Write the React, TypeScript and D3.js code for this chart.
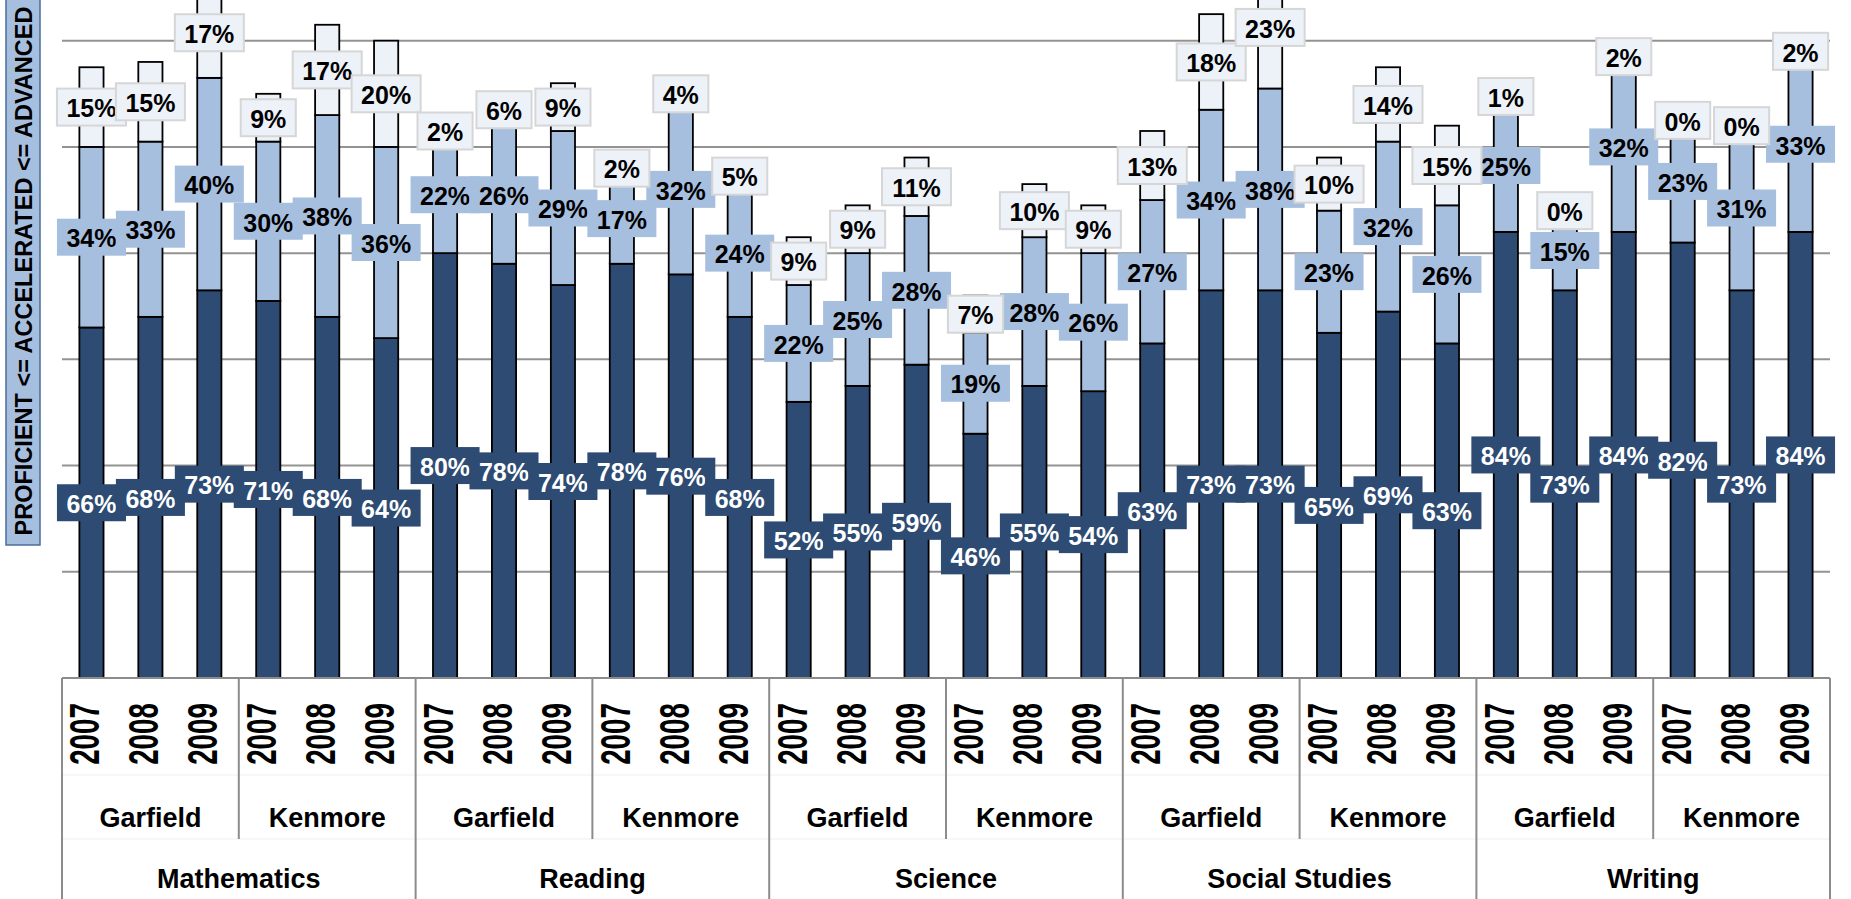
import React from "react";
import * as d3 from "d3";

const subjects = ["Mathematics", "Reading", "Science", "Social Studies", "Writing"];
const schools = ["Garfield", "Kenmore"];
const years = ["2007", "2008", "2009"];

const proficient = [66, 68, 73, 71, 68, 64, 80, 78, 74, 78, 76, 68, 52, 55, 59, 46, 55, 54, 63, 73, 73, 65, 69, 63, 84, 73, 84, 82, 73, 84];
const accelerated = [34, 33, 40, 30, 38, 36, 22, 26, 29, 17, 32, 24, 22, 25, 28, 19, 28, 26, 27, 34, 38, 23, 32, 26, 25, 15, 32, 23, 31, 33];
const advanced = [15, 15, 17, 9, 17, 20, 2, 6, 9, 2, 4, 5, 9, 9, 11, 7, 10, 9, 13, 18, 23, 10, 14, 15, 1, 0, 2, 0, 0, 2];

const axisTitle = "PROFICIENT <= ACCELERATED <= ADVANCED";

const W = 1851;
const H = 899;
const FONT = "'Liberation Sans', Arial, Helvetica, sans-serif";

const C_DARK = "#2D4B73";
const C_MID = "#A7BFDF";
const C_LIGHT = "#EDF2F9";

export default function App() {
  const n = proficient.length;
  const rows = d3.range(n).map((i) => ({ p: proficient[i], a: accelerated[i], v: advanced[i] }));
  const keys = ["p", "a", "v"];
  const stack = d3.stack<any>().keys(keys)(rows);

  const x = d3.scaleBand<number>().domain(d3.range(n)).range([62, 1830]).paddingInner(0.59).paddingOuter(0.295);
  const y = d3.scaleLinear().domain([0, 120]).range([678, 40.7]);
  const step = x.step();
  const bw = x.bandwidth();
  const x0 = 62;
  const x1 = 1830;

  const fills = [C_DARK, C_MID, C_LIGHT];
  const labelFill = [C_DARK, C_MID, C_LIGHT];
  const labelText = ["#FFFFFF", "#000000", "#000000"];
  const labelStroke = ["none", "none", "#D6D6D6"];

  const grid = [20, 40, 60, 80, 100, 120];

  const seps: { x: number; full: boolean }[] = [];
  for (let k = 0; k <= n; k += 3) seps.push({ x: x0 + step * k, full: k % 6 === 0 });

  const yearList = d3.range(n).map((i) => years[i % 3]);
  const schoolList = d3.range(n / 3).map((g) => schools[g % 2]);

  const LFS = 25;

  return (
    <svg width={W} height={H} style={{ position: "absolute", left: 0, top: 0, background: "#fff" }} fontFamily={FONT}>
      <rect x={0} y={0} width={W} height={H} fill="#fff" />
      {/* gridlines */}
      {grid.map((g) => (
        <line key={g} x1={x0} x2={x1} y1={y(g)} y2={y(g)} stroke="#939393" strokeWidth={2} />
      ))}
      {/* bars */}
      {stack.map((s, si) =>
        s.map((d, i) => (
          <rect
            key={`b${si}-${i}`}
            x={x(i)}
            y={y(d[1])}
            width={bw}
            height={Math.max(0, y(d[0]) - y(d[1]))}
            fill={fills[si]}
            stroke="#000"
            strokeWidth={1.8}
          />
        ))
      )}
      {/* baseline */}
      <line x1={x0} x2={x1} y1={y(0)} y2={y(0)} stroke="#8C8C8C" strokeWidth={2} />
      {/* faint level lines */}
      <line x1={x0} x2={x1} y1={775} y2={775} stroke="#EFEFEF" strokeWidth={1} />
      <line x1={x0} x2={x1} y1={839} y2={839} stroke="#EFEFEF" strokeWidth={1} />
      {/* category separators */}
      {seps.map((s, i) => (
        <line key={`s${i}`} x1={s.x} x2={s.x} y1={y(0)} y2={s.full ? H + 5 : 839} stroke="#8C8C8C" strokeWidth={2} />
      ))}
      {/* data labels */}
      {stack.map((s, si) =>
        s.map((d, i) => {
          const v = d[1] - d[0];
          const txt = `${v}%`;
          const tw = (String(v).length * 0.556 + 0.889) * LFS;
          const bwid = tw + 19;
          const cx = (x(i) as number) + bw / 2;
          const cy = (y(d[0]) + y(d[1])) / 2;
          return (
            <g key={`l${si}-${i}`}>
              <rect
                x={cx - bwid / 2}
                y={cy - 18.5}
                width={bwid}
                height={37}
                fill={labelFill[si]}
                stroke={labelStroke[si]}
                strokeWidth={2}
              />
              <text x={cx} y={cy + 1.5} dy="0.35em" textAnchor="middle" fontSize={LFS} fontWeight="bold" fill={labelText[si]}>
                {txt}
              </text>
            </g>
          );
        })
      )}
      {/* year labels */}
      {yearList.map((yr, i) => {
        const cx = (x(i) as number) + bw / 2 + 8;
        return (
          <text
            key={`y${i}`}
            transform={`translate(${cx},734) rotate(-90) scale(0.66,1)`}
            textAnchor="middle"
            fontSize={42}
            fontWeight="bold"
            fill="#000"
          >
            {yr}
          </text>
        );
      })}
      {/* school labels */}
      {schoolList.map((sc, g) => (
        <text key={`sc${g}`} x={x0 + step * (g * 3 + 1.5)} y={827} textAnchor="middle" fontSize={27} fontWeight="bold" fill="#000">
          {sc}
        </text>
      ))}
      {/* subject labels */}
      {subjects.map((sb, g) => (
        <text key={`sb${g}`} x={x0 + step * (g * 6 + 3)} y={888} textAnchor="middle" fontSize={27} fontWeight="bold" fill="#000">
          {sb}
        </text>
      ))}
      {/* y axis title */}
      <rect x={6} y={-2} width={34} height={547} fill={C_MID} stroke="#4A6D99" strokeWidth={1.5} />
      <text
        transform={`translate(23.5,271) rotate(-90)`}
        textAnchor="middle"
        dy="0.35em"
        fontSize={23.5}
        fontWeight="bold"
        fill="#000"
      >
        {axisTitle}
      </text>
    </svg>
  );
}
